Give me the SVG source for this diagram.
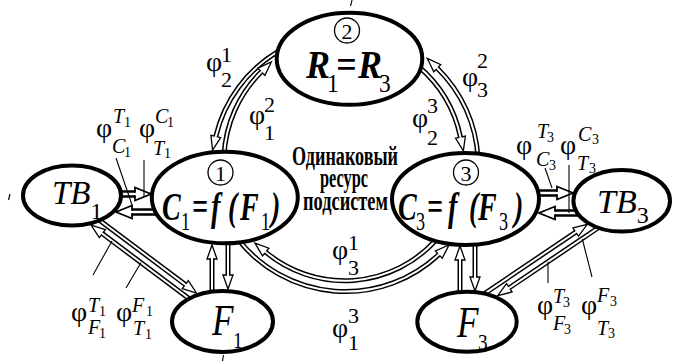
<svg xmlns="http://www.w3.org/2000/svg" width="681" height="361" viewBox="0 0 681 361">
<style>
text{font-family:"Liberation Serif","Times New Roman",serif;fill:#000}
.e{fill:#fff;stroke:#000;stroke-width:4}
.ci{fill:none;stroke:#000;stroke-width:1.3}
.o{fill:none;stroke:#000;stroke-width:5}
.i{fill:none;stroke:#fff;stroke-width:2;marker-end:url(#ma)}
.ob{fill:none;stroke:#000;stroke-width:7.5}
.ib{fill:none;stroke:#fff;stroke-width:2.5;marker-end:url(#mb)}
.ld{stroke:#000;stroke-width:1.1;fill:none}
.ph{font-size:28px}
.d{font-size:22px}
.L{font-size:20px;font-style:italic}
.s{font-size:14px}
.nb{font-weight:bold;font-style:italic;font-size:40px}
.sb{font-weight:normal;font-style:normal;font-size:26px}
.ni{font-style:italic}
.cn{font-size:22px;text-anchor:middle}
.rus{font-weight:bold;font-size:28px}
</style>
<defs>
<marker id="ma" markerUnits="userSpaceOnUse" orient="auto" overflow="visible" markerWidth="1" markerHeight="1" refX="0" refY="0">
<path d="M0,-5 L14,0 L0,5 Z" fill="#fff"/>
<path d="M0,-1 L0,-5 L14,0 L0,5 L0,1" fill="none" stroke="#000" stroke-width="1.3"/>
</marker>
<marker id="mb" markerUnits="userSpaceOnUse" orient="auto" overflow="visible" markerWidth="1" markerHeight="1" refX="0" refY="0">
<path d="M0,-6.5 L16,0 L0,6.5 Z" fill="#fff"/>
<path d="M0,-1.25 L0,-6.5 L16,0 L0,6.5 L0,1.25" fill="none" stroke="#000" stroke-width="1.8"/>
</marker>
</defs>

<g id="connectors">
<path class="o" d="M279,51 A135,135 0 0 0 215.8,136.4"/><path class="i" d="M279,51 A135,135 0 0 0 215.8,136.4"/>
<path class="o" d="M224,156 A127,127 0 0 1 261.4,71.8"/><path class="i" d="M224,156 A127,127 0 0 1 261.4,71.8"/>
<path class="o" d="M478,158 A136,136 0 0 0 437.3,68.2"/><path class="i" d="M478,158 A136,136 0 0 0 437.3,68.2"/>
<path class="o" d="M418,66 A127,127 0 0 1 460.5,137.2"/><path class="i" d="M418,66 A127,127 0 0 1 460.5,137.2"/>
<path class="o" d="M436,240 A123,123 0 0 1 265.7,252.1"/><path class="i" d="M436,240 A123,123 0 0 1 265.7,252.1"/>
<path class="o" d="M238,239.2 A136.4,136.4 0 0 0 438.8,254.6"/><path class="i" d="M238,239.2 A136.4,136.4 0 0 0 438.8,254.6"/>
<path class="o" d="M212,295 L212,259"/><path class="i" d="M212,295 L212,259"/>
<path class="o" d="M228,240 L228,275"/><path class="i" d="M228,240 L228,275"/>
<path class="o" d="M460,295 L460,260"/><path class="i" d="M460,295 L460,260"/>
<path class="o" d="M475,241 L475,277"/><path class="i" d="M475,241 L475,277"/>
<path class="ob" d="M117,194 L135,194"/><path class="ib" d="M117,194 L135,194"/>
<path class="ob" d="M158,212 L132,212"/><path class="ib" d="M158,212 L132,212"/>
<path class="ob" d="M534,193 L557,193"/><path class="ib" d="M534,193 L557,193"/>
<path class="ob" d="M579,213 L555,213"/><path class="ib" d="M579,213 L555,213"/>
<path class="o" d="M96.5,218 L185.3,284.6"/><path class="i" d="M96.5,218 L185.3,284.6"/>
<path class="o" d="M191.9,300.8 L102.3,233.6"/><path class="i" d="M191.9,300.8 L102.3,233.6"/>
<path class="o" d="M483.5,294.3 L575.7,232.1"/><path class="i" d="M483.5,294.3 L575.7,232.1"/>
<path class="o" d="M599.7,226.8 L509.3,287.8"/><path class="i" d="M599.7,226.8 L509.3,287.8"/>
</g>

<g id="node-R">
<ellipse class="e" cx="349.5" cy="58.8" rx="72.8" ry="46"/>
<circle class="ci" cx="347" cy="30.5" r="12.5"/>
<text class="cn" x="347" y="38.5">2</text>
<text class="nb" font-size="42" transform="scale(0.9,1)"><tspan x="340" y="78">R</tspan><tspan class="sb" x="363.3" y="92">1</tspan><tspan x="373.3" y="78">=</tspan><tspan x="397.8" y="78">R</tspan><tspan class="sb" x="421.1" y="92">3</tspan></text>
</g>

<g id="node-C1">
<ellipse class="e" cx="224.8" cy="197.5" rx="73" ry="45.8"/>
<circle class="ci" cx="220.5" cy="172.5" r="12.5"/>
<text class="cn" x="220.5" y="180.5">1</text>
<text class="nb" transform="scale(0.7,1)"><tspan x="231.4" y="220">C</tspan><tspan class="sb" x="258.6" y="230">1</tspan><tspan x="274.3" y="220">=</tspan><tspan x="301.4" y="220">f</tspan><tspan x="325.7" y="220">(</tspan><tspan x="342.9" y="220">F</tspan><tspan class="sb" x="372.9" y="230">1</tspan><tspan x="387.1" y="220">)</tspan></text>
</g>

<g id="node-C3">
<ellipse class="e" cx="465.5" cy="199" rx="73.5" ry="46"/>
<circle class="ci" cx="466" cy="172.5" r="12.5"/>
<text class="cn" x="466" y="180.5">3</text>
<text class="nb" transform="scale(0.7,1)"><tspan x="568.6" y="220">C</tspan><tspan class="sb" x="594.3" y="230">3</tspan><tspan x="610" y="220">=</tspan><tspan x="640" y="220">f</tspan><tspan x="670" y="220">(</tspan><tspan x="682.9" y="220">F</tspan><tspan class="sb" x="712.9" y="230">3</tspan><tspan x="734.3" y="220">)</tspan></text>
</g>

<g id="node-TB1">
<ellipse class="e" cx="72" cy="195.5" rx="49" ry="30"/>
<text class="ni" font-size="33"><tspan x="52" y="204">TB</tspan><tspan font-style="normal" font-size="24" y="219">1</tspan></text>
</g>

<g id="node-TB3">
<ellipse class="e" cx="621.7" cy="200.8" rx="48.3" ry="30.8"/>
<text class="ni" font-size="34"><tspan x="597" y="213">TB</tspan><tspan font-style="normal" font-size="24" y="223">3</tspan></text>
</g>

<g id="node-F1">
<ellipse class="e" cx="222.5" cy="321.5" rx="50.5" ry="30.5"/>
<text class="ni" font-size="44" transform="scale(0.8,1)"><tspan x="265" y="335">F</tspan><tspan font-style="normal" font-size="24" x="291.3" y="348">1</tspan></text>
</g>

<g id="node-F3">
<ellipse class="e" cx="467" cy="321.7" rx="49.7" ry="30"/>
<text class="ni" font-size="44" transform="scale(0.8,1)"><tspan x="571.3" y="337">F</tspan><tspan font-style="normal" font-size="24" x="597.5" y="350">3</tspan></text>
</g>

<g id="center-text">
<text class="rus" x="292" y="165" textLength="106" lengthAdjust="spacingAndGlyphs">Одинаковый</text>
<text class="rus" x="320" y="187" textLength="48" lengthAdjust="spacingAndGlyphs">ресурс</text>
<text class="rus" x="303" y="210" textLength="85" lengthAdjust="spacingAndGlyphs">подсистем</text>
</g>

<g id="leaders">
<line class="ld" x1="116" y1="158" x2="132" y2="205"/>
<line class="ld" x1="144" y1="160" x2="144" y2="197"/>
<line class="ld" x1="545" y1="168" x2="552" y2="188"/>
<line class="ld" x1="569" y1="165" x2="569" y2="213"/>
<line class="ld" x1="93" y1="275" x2="112" y2="241"/>
<line class="ld" x1="126" y1="288" x2="141" y2="262.5"/>
<line class="ld" x1="548" y1="283" x2="548" y2="261.7"/>
<line class="ld" x1="592" y1="277" x2="582.3" y2="239"/>
<line class="ld" x1="352" y1="0" x2="350.5" y2="6"/>
<line class="ld" x1="10" y1="194" x2="8.5" y2="200"/>
<line class="ld" x1="223.5" y1="355" x2="222.5" y2="361"/>
</g>

<g id="labels">
<text class="ph" x="206" y="71">φ</text><text class="d" x="221" y="62">1</text><text class="d" x="221" y="87">2</text>
<text class="ph" x="249" y="124">φ</text><text class="d" x="264" y="112">2</text><text class="d" x="264" y="140">1</text>
<text class="ph" x="462" y="86">φ</text><text class="d" x="477" y="68">2</text><text class="d" x="477" y="97">3</text>
<text class="ph" x="412" y="127">φ</text><text class="d" x="427" y="113">3</text><text class="d" x="427" y="145">2</text>
<text class="ph" x="332" y="259">φ</text><text class="d" x="348" y="250">1</text><text class="d" x="348" y="275">3</text>
<text class="ph" x="332" y="337">φ</text><text class="d" x="348" y="323">3</text><text class="d" x="348" y="350">1</text>

<text class="ph" x="96" y="137">φ</text><text class="L" x="113" y="123">T</text><text class="s" x="124" y="127">1</text><text class="L" x="112" y="153">C</text><text class="s" x="124" y="157">1</text>
<text class="ph" x="139" y="137">φ</text><text class="L" x="155" y="123">C</text><text class="s" x="167" y="127">1</text><text class="L" x="153" y="155">T</text><text class="s" x="164" y="158">1</text>

<text class="ph" x="516" y="154">φ</text><text class="L" x="537" y="138">T</text><text class="s" x="547" y="142">3</text><text class="L" x="536" y="166">C</text><text class="s" x="549" y="170">3</text>
<text class="ph" x="560" y="154">φ</text><text class="L" x="578" y="141">C</text><text class="s" x="592" y="144">3</text><text class="L" x="577" y="170">T</text><text class="s" x="589" y="173">3</text>

<text class="ph" x="71" y="321">φ</text><text class="L" x="88" y="312">T</text><text class="s" x="99" y="316">1</text><text class="L" x="88" y="334">F</text><text class="s" x="99" y="338">1</text>
<text class="ph" x="116" y="321">φ</text><text class="L" x="132" y="312">F</text><text class="s" x="146" y="316">1</text><text class="L" x="133" y="335">T</text><text class="s" x="145" y="339">1</text>

<text class="ph" x="537" y="314">φ</text><text class="L" x="553" y="303">T</text><text class="s" x="563" y="307">3</text><text class="L" x="553" y="330">F</text><text class="s" x="564" y="334">3</text>
<text class="ph" x="581" y="314">φ</text><text class="L" x="597" y="302">F</text><text class="s" x="610" y="306">3</text><text class="L" x="597" y="335">T</text><text class="s" x="608" y="338">3</text>
</g>
</svg>
